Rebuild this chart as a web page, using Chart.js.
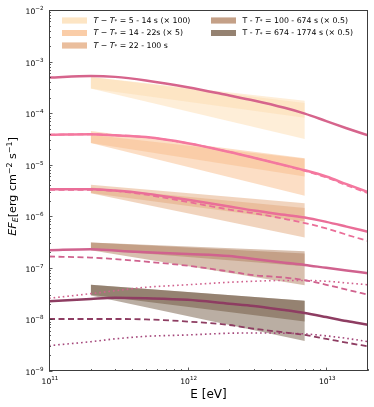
<!DOCTYPE html>
<html>
<head>
<meta charset="utf-8">
<script src="https://cdn.jsdelivr.net/npm/chart.js@4.4.1/dist/chart.umd.min.js"></script>
<style>
  html, body { margin: 0; padding: 0; background: #fff; }
  #wrap { width: 374px; height: 407px; }
</style>
</head>
<body>
<div id="wrap"><canvas id="sed"></canvas></div>
<script>
// energy grid (eV) shared by the model curves
const energy = [1e11, 2e11, 3e11, 5e11, 1e12, 2e12, 3e12, 5e12, 7e12, 1e13, 1.4e13, 2e13];

// model curves, E*F_E in erg cm^-2 s^-1
const total1  = [4.9e-4, 5.25e-4, 5.05e-4, 4.3e-4, 3.18e-4, 2.2e-4, 1.76e-4, 1.27e-4, 9.8e-5, 7.0e-5, 5.1e-5, 3.7e-5];
const total2  = [3.8e-5, 3.9e-5, 3.72e-5, 3.43e-5, 2.61e-5, 1.77e-5, 1.37e-5, 9.8e-6, 7.8e-6, 5.9e-6, 4.2e-6, 2.95e-6];
const dashed2 = [3.8e-5, 3.9e-5, 3.72e-5, 3.43e-5, 2.61e-5, 1.77e-5, 1.37e-5, 9.7e-6, 7.6e-6, 5.7e-6, 4.0e-6, 2.8e-6];
const total3  = [3.35e-6, 3.35e-6, 3.16e-6, 2.75e-6, 2.09e-6, 1.55e-6, 1.29e-6, 1.07e-6, 9.5e-7, 7.8e-7, 6.3e-7, 5.0e-7];
const dashed3 = [3.24e-6, 3.24e-6, 3.1e-6, 2.63e-6, 1.9e-6, 1.35e-6, 1.15e-6, 8.9e-7, 7.4e-7, 5.8e-7, 4.4e-7, 3.3e-7];
const total4  = [2.2e-7, 2.3e-7, 2.16e-7, 2.0e-7, 1.86e-7, 1.7e-7, 1.48e-7, 1.26e-7, 1.14e-7, 1.0e-7, 8.9e-8, 7.9e-8];
const dashed4 = [1.66e-7, 1.58e-7, 1.48e-7, 1.32e-7, 1.1e-7, 8.5e-8, 7.2e-8, 6.5e-8, 5.75e-8, 4.7e-8, 3.8e-8, 3.0e-8];
const dotted4 = [2.57e-8, 3.16e-8, 3.6e-8, 4.2e-8, 4.7e-8, 5.25e-8, 5.5e-8, 5.7e-8, 5.7e-8, 5.5e-8, 5.1e-8, 4.7e-8];
const total5  = [2.24e-8, 2.5e-8, 2.63e-8, 2.57e-8, 2.4e-8, 2.02e-8, 1.83e-8, 1.52e-8, 1.33e-8, 1.11e-8, 9.3e-9, 7.9e-9];
const dashed5 = [1.02e-8, 1.02e-8, 1.02e-8, 1.0e-8, 9.1e-9, 7.8e-9, 6.6e-9, 5.6e-9, 5.0e-9, 4.2e-9, 3.55e-9, 3.0e-9];
const dotted5 = [3.1e-9, 3.7e-9, 4.2e-9, 4.7e-9, 5.0e-9, 5.4e-9, 5.45e-9, 5.4e-9, 5.25e-9, 4.8e-9, 4.3e-9, 3.7e-9];

// measured butterflies, edges at the two ends of the fit range
const bandEnergy = [2e11, 7e12];
const band1aTop = [5.0e-4, 1.58e-4], band1aLow = [3.0e-4, 8.1e-5];
const band1bTop = [5.0e-4, 1.74e-4], band1bLow = [3.0e-4, 3.16e-5];
const band2aTop = [3.8e-5, 1.3e-5],  band2aLow = [2.63e-5, 5.9e-6];
const band2bTop = [4.5e-5, 1.34e-5], band2bLow = [2.63e-5, 2.5e-6];
const band3aTop = [3.6e-6, 1.45e-6], band3aLow = [2.82e-6, 7.9e-7];
const band3bTop = [4.07e-6, 1.78e-6], band3bLow = [2.8e-6, 3.9e-7];
const band4aTop = [3.1e-7, 1.9e-7],  band4aLow = [2.29e-7, 1.07e-7];
const band4bTop = [3.1e-7, 2.1e-7],  band4bLow = [2.2e-7, 4.6e-8];
const band5aTop = [4.7e-8, 2.3e-8],  band5aLow = [3.0e-8, 9.1e-9];
const band5bTop = [4.7e-8, 2.3e-8],  band5bLow = [2.9e-8, 3.8e-9];

// major tick exponents
const xExponents = [11, 12, 13];
const yExponents = [-9, -8, -7, -6, -5, -4, -3, -2];

const legendText = [
  ' = 5 - 14 s (\u00d7 100)',
  ' = 14 - 22s (\u00d7 5)',
  ' = 22 - 100 s',
  ' = 100 - 674 s (\u00d7 0.5)',
  ' = 674 - 1774 s (\u00d7 0.5)'
];

const bandColors = [
  'rgba(253, 222, 178, 0.5)',
  'rgba(250, 190, 140, 0.5)',
  'rgba(228, 170, 125, 0.5)',
  'rgba(178, 130, 95, 0.5)',
  'rgba(105, 78, 55, 0.46)'
];
const lineColors = ['#d6648c', '#f4789f', '#ea6e98', '#d0628e', '#8e3d62'];

const FONT = '"DejaVu Sans", sans-serif';

function pts(xs, ys) {
  return xs.map((x, i) => ({ x: x, y: ys[i] }));
}

function curve(ys, color, width, dash) {
  return {
    data: pts(energy, ys),
    borderColor: color,
    borderWidth: width,
    borderDash: dash || [],
    borderCapStyle: dash ? 'butt' : 'round',
    pointRadius: 0,
    fill: false,
    cubicInterpolationMode: 'monotone'
  };
}

// a band is a hidden lower edge plus an upper edge filled down to it
function band(top, low, color) {
  return [
    { data: pts(bandEnergy, low), borderWidth: 0, borderColor: 'transparent', pointRadius: 0, fill: false },
    { data: pts(bandEnergy, top), borderWidth: 0, borderColor: 'transparent', pointRadius: 0, fill: '-1', backgroundColor: color }
  ];
}

const datasets = [
  ...band(band1aTop, band1aLow, bandColors[0]),
  ...band(band1bTop, band1bLow, bandColors[0]),
  ...band(band2aTop, band2aLow, bandColors[1]),
  ...band(band2bTop, band2bLow, bandColors[1]),
  ...band(band3aTop, band3aLow, bandColors[2]),
  ...band(band3bTop, band3bLow, bandColors[2]),
  ...band(band4aTop, band4aLow, bandColors[3]),
  ...band(band4bTop, band4bLow, bandColors[3]),
  ...band(band5aTop, band5aLow, bandColors[4]),
  ...band(band5bTop, band5bLow, bandColors[4]),
  curve(dashed2, lineColors[1], 1.8, [6, 3.5]),
  curve(dashed3, lineColors[2], 1.8, [6, 3.5]),
  curve(dashed4, lineColors[3], 1.8, [6, 3.5]),
  curve(dotted4, lineColors[3], 1.6, [1.6, 3]),
  curve(dashed5, lineColors[4], 1.8, [6, 3.5]),
  curve(dotted5, '#a4467a', 1.6, [1.6, 3]),
  curve(total1, lineColors[0], 2.5),
  curve(total2, lineColors[1], 2.5),
  curve(total3, lineColors[2], 2.5),
  curve(total4, lineColors[3], 2.5),
  curve(total5, lineColors[4], 2.5)
];

// draw a list of text runs with their own fonts and vertical shifts
function drawRuns(ctx, runs, x, y, align) {
  let total = 0;
  runs.forEach(r => { ctx.font = r.font; total += ctx.measureText(r.t).width; });
  let cx = x;
  if (align === 'center') cx = x - total / 2;
  if (align === 'right') cx = x - total;
  runs.forEach(r => {
    ctx.font = r.font;
    ctx.fillText(r.t, cx, y + (r.dy || 0));
    cx += ctx.measureText(r.t).width;
  });
}

function powerRuns(exp) {
  return [
    { t: '10', font: '7.6px ' + FONT },
    { t: String(exp).replace('-', '\u2212'), font: '5.6px ' + FONT, dy: -4 }
  ];
}

const decor = {
  id: 'decor',
  afterDraw(chart) {
    const ctx = chart.ctx;
    const a = chart.chartArea;
    const xs = chart.scales.x, ys = chart.scales.y;
    ctx.save();

    // inward log ticks on bottom and left
    ctx.strokeStyle = '#333';
    ctx.lineWidth = 0.8;
    for (let e = 11; e <= 13; e++) {
      for (let k = 1; k <= 9; k++) {
        const v = k * Math.pow(10, e);
        if (v < xs.min || v > xs.max) continue;
        const px = Math.round(xs.getPixelForValue(v)) + 0.5;
        const len = k === 1 ? 3.5 : 2;
        ctx.beginPath(); ctx.moveTo(px, a.bottom); ctx.lineTo(px, a.bottom - len); ctx.stroke();
      }
    }
    for (let e = -9; e <= -2; e++) {
      for (let k = 1; k <= 9; k++) {
        const v = k * Math.pow(10, e);
        if (v < ys.min * 0.999 || v > ys.max * 1.001) continue;
        const py = Math.round(ys.getPixelForValue(v)) + 0.5;
        const len = k === 1 ? 3.5 : 2;
        ctx.beginPath(); ctx.moveTo(a.left, py); ctx.lineTo(a.left + len, py); ctx.stroke();
      }
    }

    // frame
    ctx.strokeStyle = '#3c3c3c';
    ctx.lineWidth = 1;
    ctx.strokeRect(a.left + 0.5, a.top + 0.5, a.right - a.left - 1, a.bottom - a.top - 1);

    // tick labels
    ctx.fillStyle = '#000';
    ctx.textBaseline = 'alphabetic';
    xExponents.forEach(e => {
      drawRuns(ctx, powerRuns(e), xs.getPixelForValue(Math.pow(10, e)) + 1, a.bottom + 13, 'center');
    });
    yExponents.forEach(e => {
      drawRuns(ctx, powerRuns(e), a.left - 5.5, ys.getPixelForValue(Math.pow(10, e)) + 4, 'right');
    });

    // legend, two columns
    const fs = 7.8;
    const norm = fs + 'px ' + FONT, ital = 'italic ' + fs + 'px ' + FONT, small = 'italic ' + (fs * 0.7) + 'px ' + FONT;
    const slots = [[62, 20.5], [62, 33], [62, 45.5], [211, 20.5], [211, 33]];
    ctx.textBaseline = 'middle';
    slots.forEach((s, i) => {
      ctx.fillStyle = bandColors[i];
      ctx.fillRect(s[0], s[1] - 3, 25, 6);
      ctx.fillRect(s[0], s[1] - 3, 25, 6);
      ctx.fillStyle = '#000';
      const head = i < 3
        ? [{ t: 'T', font: ital }, { t: ' \u2212 ', font: norm }, { t: 'T', font: ital }, { t: '*', font: small, dy: 1.5 }]
        : [{ t: 'T - ', font: norm }, { t: 'T', font: ital }, { t: '*', font: small, dy: 1.5 }];
      drawRuns(ctx, head.concat([{ t: legendText[i], font: norm }]), s[0] + 31.5, s[1], 'left');
    });

    // axis titles
    const tf = 12;
    drawRuns(ctx, [{ t: 'E [eV]', font: tf + 'px ' + FONT }], (a.left + a.right) / 2, 395, 'center');

    const yf = 11.2;
    ctx.translate(13.5, (a.top + a.bottom) / 2 - 4);
    ctx.rotate(-Math.PI / 2);
    drawRuns(ctx, [
      { t: 'EF', font: 'italic ' + yf + 'px ' + FONT },
      { t: 'E', font: 'italic ' + (yf * 0.7) + 'px ' + FONT, dy: 2.5 },
      { t: '[erg cm', font: yf + 'px ' + FONT },
      { t: '\u22122', font: (yf * 0.7) + 'px ' + FONT, dy: -4 },
      { t: ' s', font: yf + 'px ' + FONT },
      { t: '\u22121', font: (yf * 0.7) + 'px ' + FONT, dy: -4 },
      { t: ']', font: yf + 'px ' + FONT }
    ], 0, 0, 'center');
    ctx.restore();
  }
};

new Chart(document.getElementById('sed'), {
  type: 'line',
  data: { datasets: datasets },
  plugins: [decor],
  options: {
    responsive: true,
    maintainAspectRatio: false,
    animation: false,
    layout: { padding: { top: 10, right: 6, left: 0, bottom: 0 } },
    plugins: {
      legend: { display: false },
      tooltip: { enabled: false },
      filler: { drawTime: 'beforeDatasetsDraw' }
    },
    scales: {
      x: {
        type: 'logarithmic',
        min: 1e11,
        max: 2e13,
        afterFit(s) { s.height = 36; },
        grid: { display: false, drawTicks: false },
        border: { display: false },
        ticks: { display: false }
      },
      y: {
        type: 'logarithmic',
        min: 1e-9,
        max: 1e-2,
        afterFit(s) { s.width = 49; },
        grid: { display: false, drawTicks: false },
        border: { display: false },
        ticks: { display: false }
      }
    }
  }
});
</script>
</body>
</html>
